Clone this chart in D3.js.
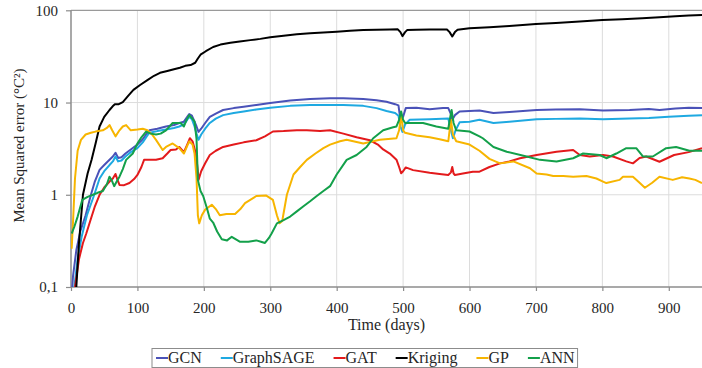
<!DOCTYPE html>
<html>
<head>
<meta charset="utf-8">
<script src="https://cdn.jsdelivr.net/npm/d3@7"></script>
<style>
  html, body { margin: 0; padding: 0; background: #fff; }
  svg { display: block; }
  svg text { font-family: "Liberation Serif", serif; fill: #262626; }
</style>
</head>
<body>
<svg id="chart" width="702" height="368"></svg>
<script>
// Mean squared error over time, [day, MSE] pairs per model
const gcn = [[1,0.08],[3,0.13],[8,0.25],[14,0.4],[22,0.6],[30,1.0],[36,1.4],[43,1.86],[50,2.1],[58,2.4],[63,2.6],[67,2.85],[71,2.5],[76,2.55],[82,2.8],[90,3.1],[100,3.5],[108,4.0],[114,4.6],[118,5.0],[130,5.2],[143,5.5],[155,5.7],[163,6.0],[170,6.2],[175,7.0],[178,7.5],[182,7.2],[186,6.2],[189,5.5],[192,4.8],[196,5.2],[202,6.0],[209,7.0],[218,7.6],[229,8.3],[245,8.7],[260,9.0],[279,9.4],[300,9.9],[330,10.5],[360,10.9],[390,11.1],[410,11.1],[440,10.9],[460,10.6],[475,10.2],[488,9.6],[493,9.3],[496,6.5],[500,7.0],[504,8.7],[520,8.8],[540,8.45],[560,8.7],[568,8.7],[572,7.5],[574,6.5],[578,7.3],[585,8.0],[600,8.1],[615,8.2],[636,7.7],[660,7.9],[701,8.3],[730,8.4],[766,8.45],[801,8.2],[841,8.3],[870,8.5],[886,8.3],[910,8.6],[930,8.8],[950,8.7]];

const graphSage = [[2,0.07],[5,0.1],[10,0.2],[16,0.35],[24,0.6],[35,1.0],[43,1.5],[50,1.8],[58,2.1],[63,2.3],[67,2.6],[71,2.3],[76,2.35],[82,2.6],[90,2.9],[100,3.2],[108,3.7],[114,4.3],[118,4.7],[130,4.9],[143,5.1],[155,5.3],[163,5.5],[170,5.8],[175,6.5],[178,7.0],[182,6.6],[186,5.5],[189,4.6],[192,3.94],[196,4.5],[202,5.2],[209,6.0],[218,6.7],[229,7.3],[245,7.7],[260,8.0],[279,8.4],[300,8.8],[330,9.2],[360,9.4],[390,9.4],[410,9.4],[440,9.2],[460,8.7],[475,8.1],[488,7.7],[493,7.2],[496,5.5],[499,4.8],[503,5.8],[510,6.5],[540,6.6],[568,6.7],[572,5.0],[575,4.1],[579,5.0],[585,6.1],[600,6.2],[615,6.5],[636,6.0],[660,6.2],[701,6.6],[730,6.65],[766,6.7],[801,6.6],[841,6.7],[870,6.8],[900,7.0],[930,7.2],[950,7.3]];

const gat = [[3,0.07],[6,0.1],[12,0.2],[18,0.3],[23,0.38],[30,0.55],[36,0.75],[43,1.0],[50,1.2],[58,1.39],[63,1.5],[67,1.68],[70,1.45],[73,1.28],[80,1.27],[88,1.34],[95,1.48],[100,1.64],[106,2.0],[110,2.39],[118,2.39],[128,2.4],[138,2.49],[145,2.8],[150,3.06],[158,3.1],[163,3.3],[170,2.9],[175,3.5],[179,4.1],[183,3.8],[188,2.8],[191,1.8],[192,1.45],[196,1.8],[202,2.2],[209,2.7],[218,3.0],[229,3.3],[245,3.5],[260,3.7],[279,3.9],[292,4.3],[304,4.85],[320,4.9],[340,5.0],[355,5.0],[375,4.9],[390,5.0],[410,4.6],[430,4.2],[450,3.9],[462,3.5],[470,3.1],[480,2.8],[490,2.4],[494,2.0],[497,1.71],[500,1.8],[504,1.98],[515,1.85],[540,1.73],[555,1.68],[568,1.64],[572,1.75],[574,2.0],[576,1.7],[578,1.64],[590,1.7],[605,1.78],[615,1.78],[630,2.0],[646,2.19],[660,2.3],[676,2.49],[701,2.7],[731,2.93],[756,3.06],[766,2.7],[781,2.6],[801,2.7],[816,2.6],[836,2.3],[846,2.19],[856,2.5],[866,2.6],[886,2.28],[908,2.7],[930,2.9],[950,3.2]];

const kriging = [[4,0.05],[8,0.1],[12,0.3],[18,1.0],[25,1.7],[31,2.4],[37,3.6],[43,5.5],[50,7.0],[58,8.3],[64,9.3],[66,9.6],[72,9.6],[78,10.1],[86,11.8],[94,13.7],[104,15.5],[115,17.5],[125,19.5],[134,21],[145,22],[155,23],[164,23.8],[172,25],[180,25.5],[187,27],[191,30],[195,33],[203,36],[214,40],[225,42.5],[240,44.5],[254,46],[270,47.5],[285,49],[300,51],[320,53],[340,55],[360,56.5],[380,57.5],[400,58.6],[420,60],[440,61],[460,61.5],[480,62],[492,62.2],[496,58],[499,52.5],[503,58],[506,61],[520,61.5],[540,62],[555,62],[566,62],[570,58],[574,52],[578,58],[582,61.5],[600,63.8],[630,65.5],[660,67.5],[700,71],[730,73],[760,75],[800,78.5],[830,80],[860,82],[886,84],[910,86],[930,88],[950,89]];

const gp = [[1,0.26],[3,0.5],[6,1.5],[10,3.0],[15,3.94],[22,4.5],[30,4.7],[37,4.84],[48,5.0],[54,5.3],[58,5.7],[62,5.0],[67,4.3],[73,5.0],[78,5.5],[83,5.7],[90,5.0],[100,5.1],[108,5.2],[115,5.0],[122,4.5],[128,3.94],[138,3.06],[143,3.3],[153,3.6],[163,3.2],[170,2.8],[175,3.4],[178,3.8],[183,3.5],[186,2.8],[189,1.5],[191,0.6],[193,0.49],[197,0.6],[202,0.69],[212,0.78],[218,0.7],[224,0.6],[234,0.62],[247,0.62],[255,0.7],[262,0.81],[279,0.97],[294,0.98],[304,0.88],[310,0.6],[314,0.49],[318,0.52],[325,1.0],[335,1.66],[345,2.0],[355,2.39],[368,2.8],[380,3.2],[390,3.5],[405,3.8],[415,3.94],[440,3.6],[465,3.94],[490,4.1],[494,5.0],[497,7.3],[500,5.0],[503,4.7],[520,4.4],[540,4.2],[555,4.0],[568,3.8],[570,5.0],[572,6.5],[575,4.5],[580,3.8],[600,3.5],[615,3.0],[630,2.45],[646,2.19],[666,2.3],[691,1.94],[701,1.7],[716,1.66],[726,1.6],[741,1.6],[756,1.57],[776,1.6],[791,1.5],[801,1.39],[806,1.34],[826,1.45],[831,1.57],[846,1.57],[856,1.35],[864,1.19],[875,1.35],[886,1.57],[906,1.45],[920,1.55],[931,1.5],[940,1.45],[950,1.34]];

const ann = [[1,0.38],[5,0.45],[10,0.58],[17,0.88],[25,0.95],[33,1.0],[40,1.05],[48,1.1],[54,1.3],[58,1.57],[62,1.4],[65,1.24],[69,1.4],[73,1.57],[78,1.9],[83,2.39],[93,2.8],[100,3.6],[106,4.2],[113,4.84],[120,4.6],[128,4.5],[135,4.6],[143,5.0],[153,6.0],[160,6.0],[165,6.0],[170,5.5],[174,6.5],[178,7.3],[182,6.8],[186,6.2],[189,4.0],[191,1.45],[195,1.1],[199,0.97],[205,0.7],[209,0.55],[214,0.5],[220,0.4],[227,0.33],[235,0.32],[242,0.35],[254,0.31],[267,0.31],[279,0.32],[286,0.31],[292,0.3],[298,0.34],[302,0.38],[310,0.49],[320,0.53],[330,0.58],[340,0.66],[350,0.75],[360,0.85],[370,0.97],[380,1.1],[390,1.24],[400,1.66],[415,2.39],[430,2.7],[445,3.3],[455,4.1],[470,5.0],[485,5.4],[490,5.5],[494,6.5],[497,8.0],[500,6.5],[503,6.0],[515,6.0],[530,6.0],[550,5.5],[568,5.2],[571,7.0],[573,8.3],[576,6.0],[580,5.0],[600,4.85],[615,4.3],[620,4.1],[636,3.3],[656,2.93],[686,2.6],[706,2.39],[731,2.3],[756,2.49],[771,2.8],[796,2.7],[806,2.49],[821,2.8],[836,3.2],[851,3.2],[861,2.6],[876,2.6],[896,3.2],[911,3.3],[931,3.0],[950,3.0]];

const seriesNames = ["GCN", "GraphSAGE", "GAT", "Kriging", "GP", "ANN"];
const seriesData = [gcn, graphSage, gat, kriging, gp, ann];
const seriesColors = ["#4a52b8", "#1ea9e1", "#e31a1c", "#000000", "#f7b500", "#13a04a"];

const xTicks = [0, 100, 200, 300, 400, 500, 600, 700, 800, 900];
const yTicks = [0.1, 1, 10, 100];
const yTickLabels = ["0,1", "1", "10", "100"];

const xTitle = "Time (days)";
const yTitle = "Mean Squared error (°C²)";

const svg = d3.select("#chart");
const plot = { left: 71, right: 702, top: 10.3, bottom: 287 };

const x = d3.scaleLinear().domain([0, 950]).range([plot.left, plot.right]);
const y = d3.scaleLog().domain([0.1, 100]).range([plot.bottom, plot.top]);

// grid
const grid = svg.append("g");
grid.selectAll("line.v").data(xTicks.filter(d => d > 0)).join("line")
  .attr("x1", d => x(d)).attr("x2", d => x(d))
  .attr("y1", plot.top).attr("y2", plot.bottom)
  .attr("stroke", "#dcdcdc").attr("stroke-width", 1);
grid.selectAll("line.h").data(yTicks.filter(d => d > 0.1 && d < 100)).join("line")
  .attr("x1", plot.left).attr("x2", plot.right)
  .attr("y1", d => y(d)).attr("y2", d => y(d))
  .attr("stroke", "#dcdcdc").attr("stroke-width", 1);
// top frame line
svg.append("line")
  .attr("x1", plot.left).attr("x2", plot.right)
  .attr("y1", y(100)).attr("y2", y(100))
  .attr("stroke", "#9a9a9a").attr("stroke-width", 1.2);

// axes
const xAxis = d3.axisBottom(x).tickValues(xTicks).tickSize(4).tickPadding(11).tickFormat(d3.format("d"));
const gx = svg.append("g").attr("transform", `translate(0,${plot.bottom})`).call(xAxis)
  .attr("font-family", null).attr("font-size", null);
gx.select(".domain").attr("d", `M${plot.left},0H${plot.right}`).attr("stroke", "#8c8c8c").attr("stroke-width", 1.5);
gx.selectAll(".tick line").attr("stroke", "#8c8c8c").attr("stroke-width", 1.2);
gx.selectAll(".tick text").attr("font-size", 15).attr("fill", "#262626");

const yAxis = d3.axisLeft(y).tickValues(yTicks).tickSize(5).tickPadding(8)
  .tickFormat((d, i) => yTickLabels[i]);
const gy = svg.append("g").attr("transform", `translate(${plot.left},0)`).call(yAxis)
  .attr("font-family", null).attr("font-size", null);
gy.select(".domain").attr("d", `M0,${plot.bottom}V${plot.top}`).attr("stroke", "#8c8c8c").attr("stroke-width", 1.5);
gy.selectAll(".tick line").attr("stroke", "#8c8c8c").attr("stroke-width", 1.2);
gy.selectAll(".tick text").attr("font-size", 15).attr("fill", "#262626");

// titles
svg.append("text").attr("x", (plot.left + plot.right) / 2).attr("y", 330)
  .attr("text-anchor", "middle").attr("font-size", 16).text(xTitle);
svg.append("text").attr("transform", `translate(24,${(plot.top + plot.bottom) / 2 - 3}) rotate(-90)`)
  .attr("text-anchor", "middle").attr("font-size", 15).text(yTitle);

// lines
svg.append("clipPath").attr("id", "plotClip").append("rect")
  .attr("x", plot.left).attr("y", plot.top)
  .attr("width", plot.right - plot.left).attr("height", plot.bottom - plot.top);
const line = d3.line().x(d => x(d[0])).y(d => y(d[1]));
const lines = svg.append("g").attr("clip-path", "url(#plotClip)");
seriesData.forEach((data, i) => {
  lines.append("path").datum(data)
    .attr("d", line)
    .attr("fill", "none")
    .attr("stroke", seriesColors[i])
    .attr("stroke-width", 2)
    .attr("stroke-linejoin", "round");
});

// legend
const legend = svg.append("g");
const legendBox = legend.append("rect").attr("fill", "#fff").attr("stroke", "#8c8c8c").attr("stroke-width", 1);
const dashLen = 12, itemGap = 19, legendY = 358;
let cx = 156;
seriesNames.forEach((name, i) => {
  legend.append("line").attr("x1", cx).attr("x2", cx + dashLen)
    .attr("y1", legendY).attr("y2", legendY)
    .attr("stroke", seriesColors[i]).attr("stroke-width", 2);
  const t = legend.append("text").attr("x", cx + dashLen).attr("y", legendY + 5)
    .attr("font-size", 16).text(name);
  cx += dashLen + t.node().getComputedTextLength() + itemGap;
});
const legendRight = cx - itemGap + 3;
legendBox.attr("x", 152).attr("y", 348.5).attr("width", legendRight - 152).attr("height", 19);
</script>
</body>
</html>
